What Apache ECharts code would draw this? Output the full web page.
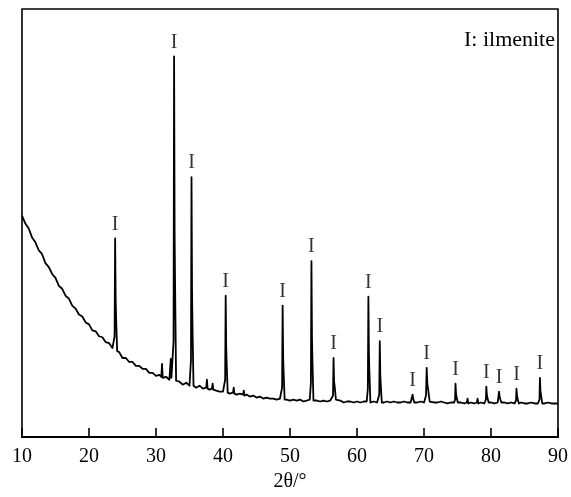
<!DOCTYPE html>
<html>
<head>
<meta charset="utf-8">
<script src="https://cdn.jsdelivr.net/npm/echarts@6/dist/echarts.min.js"></script>
<style>
html,body{margin:0;padding:0;background:#fff;}
#chart{width:571px;height:497px;}
</style>
</head>
<body>
<div id="chart"></div>
<script>
// Background (amorphous hump + noise): [2θ, intensity]
const backgroundPts = [
  [10.0,224],[10.5,216],[11.0,211],[11.5,202],[12.0,197],[12.5,189],[13.0,185],[13.5,176],
  [14.0,172],[14.5,165],[15.0,161],[15.5,153],[16.0,150],[16.5,143],[17.0,140],[17.5,133],
  [18.0,130],[18.5,124],[19.0,122],[19.5,116],[20.0,114],[20.5,108],[21.0,107],[21.5,102],
  [22.0,101],[22.5,96],[23.0,95],[23.5,90],[24.5,86],[25.0,80],[25.5,80],[26.0,76],
  [26.5,76],[27.0,72],[27.5,72],[28.0,69],[28.5,69],[29.0,65],[29.5,65],[30.0,62],
  [30.5,63],[31.0,60],[31.5,61],[32.0,58],[33.5,56],[34.0,53],[34.5,55],[35.0,52],
  [36.0,50],[36.5,52],[37.0,49],[38.0,48],[39.0,47],[39.5,46],[40.0,46],[41.0,44],
  [42.0,43],[42.5,44],[43.5,43],[44.0,41],[44.5,42],[45.0,40],[45.5,41],[46.0,39],
  [46.5,40],[47.0,39],[47.5,39],[48.0,38],[48.5,39],[49.5,38],[50.0,37],[50.5,38],
  [51.0,37],[51.5,38],[52.0,36],[52.5,37],[54.0,37],[54.5,36],[55.0,37],[55.5,36],
  [56.0,37],[57.0,36],[57.5,37],[58.0,35],[58.5,36],[59.0,36],[59.5,35],[60.0,36],
  [60.5,35],[61.0,36],[62.5,36],[63.0,35],[64.0,35],[64.5,36],[65.0,35],[65.5,36],
  [66.0,35],[66.5,35],[67.0,36],[67.5,35],[68.0,35],[69.0,35],[69.5,36],[70.0,35],
  [71.0,37],[71.5,35],[72.0,35],[72.5,36],[73.0,35],[73.5,34],[74.0,35],[75.5,35],
  [76.0,34],[77.0,35],[77.5,34],[78.5,35],[79.0,34],[80.0,35],[80.5,34],[82.0,35],
  [82.5,34],[83.0,35],[83.5,34],[84.5,35],[85.0,34],[85.5,34],[86.0,35],[86.5,34],
  [87.0,34],[88.0,34],[88.5,35],[89.0,34],[89.5,34],[90.0,34]
];

// Ilmenite reflections (profile points)
const ilmenitePeaks = [
  [[23.65,90],[23.82,102],[23.9,201],[23.98,139],[24.04,122],[24.2,87]],
  [[32.45,59],[32.62,97],[32.7,385],[32.78,205],[32.84,160],[33.0,57]],
  [[35.05,53],[35.22,78],[35.3,263],[35.38,148],[35.44,115],[35.6,52]],
  [[40.15,46],[40.32,58],[40.4,143],[40.48,90],[40.54,76],[40.7,45]],
  [[48.65,39],[48.82,50],[48.9,133],[48.98,81],[49.04,67],[49.2,38]],
  [[52.95,38],[53.12,55],[53.2,178],[53.28,101],[53.34,80],[53.5,37]],
  [[56.25,37],[56.42,42],[56.5,80],[56.58,56],[56.66,52],[56.85,38]],
  [[61.45,36],[61.62,49],[61.7,142],[61.78,84],[61.84,68],[62.0,35]],
  [[63.15,36],[63.32,43],[63.4,97],[63.48,63],[63.54,54],[63.7,35]],
  [[68.1,35],[68.25,37],[68.3,43],[68.38,39],[68.55,35]],
  [[70.1,35],[70.3,42],[70.4,70],[70.5,54],[70.62,48],[70.85,36]],
  [[74.5,35],[74.64,38],[74.7,54],[74.78,44],[74.9,39],[75.05,35]],
  [[79.1,35],[79.24,38],[79.3,51],[79.38,43],[79.5,39],[79.65,35]],
  [[81.0,35],[81.14,37],[81.2,46],[81.28,41],[81.4,38],[81.55,35]],
  [[83.6,34],[83.74,37],[83.8,49],[83.88,42],[84.0,38],[84.15,34]],
  [[87.1,34],[87.24,38],[87.3,60],[87.38,47],[87.5,41],[87.65,34]]
];

// Small unlabelled reflections
const minorPeaks = [
  [[30.8,61],[30.9,74],[31.0,60]],
  [[32.1,59],[32.2,79],[32.3,60]],
  [[37.5,50],[37.6,58],[37.7,49]],
  [[38.35,49],[38.45,54],[38.55,48]],
  [[41.5,45],[41.6,50],[41.7,44]],
  [[43.0,43],[43.1,47],[43.2,42]],
  [[76.4,35],[76.5,39],[76.6,34]],
  [[77.9,35],[78.0,39],[78.1,34]]
];

// Peak markers "I"
const labelPos = [23.9,32.7,35.3,40.4,48.9,53.2,56.5,61.7,63.4,68.3,70.4,74.7,79.3,81.2,83.8,87.3];
const labelTop = [201,385,263,143,133,178,80,142,97,43,70,54,51,46,49,60];

const xTicks = {min:10, max:90, interval:10};

const profiles = ilmenitePeaks.concat(minorPeaks);
const ranges = profiles.map(p => [p[0][0], p[p.length-1][0]]);
const bg = backgroundPts.filter(pt => !ranges.some(r => pt[0] >= r[0] && pt[0] <= r[1]));
let pattern = bg.slice();
profiles.forEach(p => { pattern = pattern.concat(p); });
pattern.sort((a,b) => a[0]-b[0]);

const labelData = labelPos.map((x,i) => [x, labelTop[i]]);
const serif = '"Liberation Serif","Times New Roman",serif';

const chart = echarts.init(document.getElementById('chart'), null, {renderer:'canvas'});
chart.setOption({
  animation:false,
  backgroundColor:'#fff',
  grid:{left:22,right:10,top:9,bottom:55,show:true,borderColor:'#000',borderWidth:1.6,backgroundColor:'transparent'},
  xAxis:{
    type:'value', min:xTicks.min, max:xTicks.max, interval:xTicks.interval,
    axisLine:{show:true,lineStyle:{color:'#000',width:2}},
    axisTick:{show:true,inside:true,length:9,lineStyle:{color:'#000',width:1.6}},
    axisLabel:{color:'#000',fontFamily:serif,fontSize:20,margin:10},
    splitLine:{show:false},
    name:'2θ/°', nameLocation:'middle', nameGap:33,
    nameTextStyle:{color:'#000',fontFamily:serif,fontSize:20}
  },
  yAxis:{type:'value',min:0,max:433,show:false,splitLine:{show:false}},
  graphic:[{
    type:'text', right:16, top:29,
    style:{text:'I: ilmenite', font:'22px "Liberation Serif", serif', fill:'#000'}
  }],
  series:[
    {
      type:'line', data:pattern, showSymbol:false, symbol:'none', sampling:null,
      lineStyle:{color:'#000',width:1.8,join:'round'}, z:3
    },
    {
      type:'scatter', data:labelData, symbolSize:0, z:4,
      label:{show:true, position:'top', distance:4, formatter:'I', color:'#000', fontFamily:serif, fontSize:20}
    }
  ]
});
</script>
</body>
</html>
